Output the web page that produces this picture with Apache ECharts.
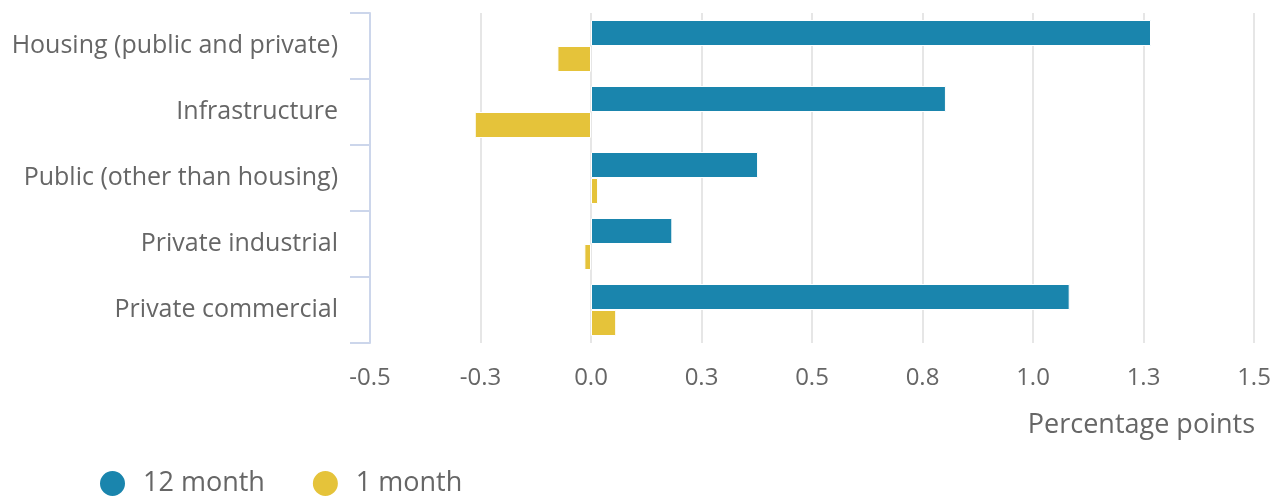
<!DOCTYPE html>
<html><head><meta charset="utf-8">
<script src="https://cdn.jsdelivr.net/npm/echarts@6/dist/echarts.min.js"></script>
<style>html,body{margin:0;padding:0;background:#fff}#c{width:1277px;height:500px}</style>
</head><body><div id="c"></div>
<script>
const categories = ["Housing (public and private)", "Infrastructure", "Public (other than housing)", "Private industrial", "Private commercial"];
const month12 = [1.267, 0.803, 0.378, 0.184, 1.083];
const month1 = [-0.076, -0.263, 0.016, -0.015, 0.057];
const seriesNames = ["12 month", "1 month"];
const xTicks = {min: -0.5, max: 1.5, interval: 0.25};

const chart = echarts.init(document.getElementById('c'));
const font = '"Open Sans", sans-serif';
chart.setOption({
  animation: false,
  textStyle: {fontFamily: font},
  title: {text: 'Percentage points', right: 17, top: 407,
    textStyle: {fontFamily: font, fontSize: 27, fontWeight: 'normal', color: '#666'}},
  legend: {left: 93, top: 464, itemWidth: 27, itemHeight: 27, itemGap: 46, icon: 'circle',
    textStyle: {fontFamily: font, fontSize: 27, color: '#666', padding: [0, 0, 0, 12]},
    data: seriesNames},
  grid: {left: 370, right: 23, top: 13, bottom: 157},
  xAxis: {type: 'value', min: xTicks.min, max: xTicks.max, interval: xTicks.interval,
    axisLine: {show: false}, axisTick: {show: false},
    splitLine: {lineStyle: {color: '#e6e6e6', width: 2}},
    axisLabel: {fontFamily: font, fontSize: 24, color: '#666', margin: 23,
      formatter: v => v.toFixed(1)}},
  yAxis: {type: 'category', inverse: true, data: categories, z: 5,
    axisLine: {show: true, onZero: false, lineStyle: {color: '#ccd6eb', width: 2}},
    axisTick: {show: true, alignWithLabel: false, length: 20, lineStyle: {color: '#ccd6eb', width: 2}},
    axisLabel: {fontFamily: font, fontSize: 25, color: '#666', margin: 32}},
  series: [
    {name: seriesNames[0], type: 'bar', data: month12, barWidth: 26, barGap: '0%',
      itemStyle: {color: '#1a85ad', borderColor: '#fff', borderWidth: 1}},
    {name: seriesNames[1], type: 'bar', data: month1, barWidth: 26,
      itemStyle: {color: '#e5c33a', borderColor: '#fff', borderWidth: 1}}
  ]
});
</script></body></html>
